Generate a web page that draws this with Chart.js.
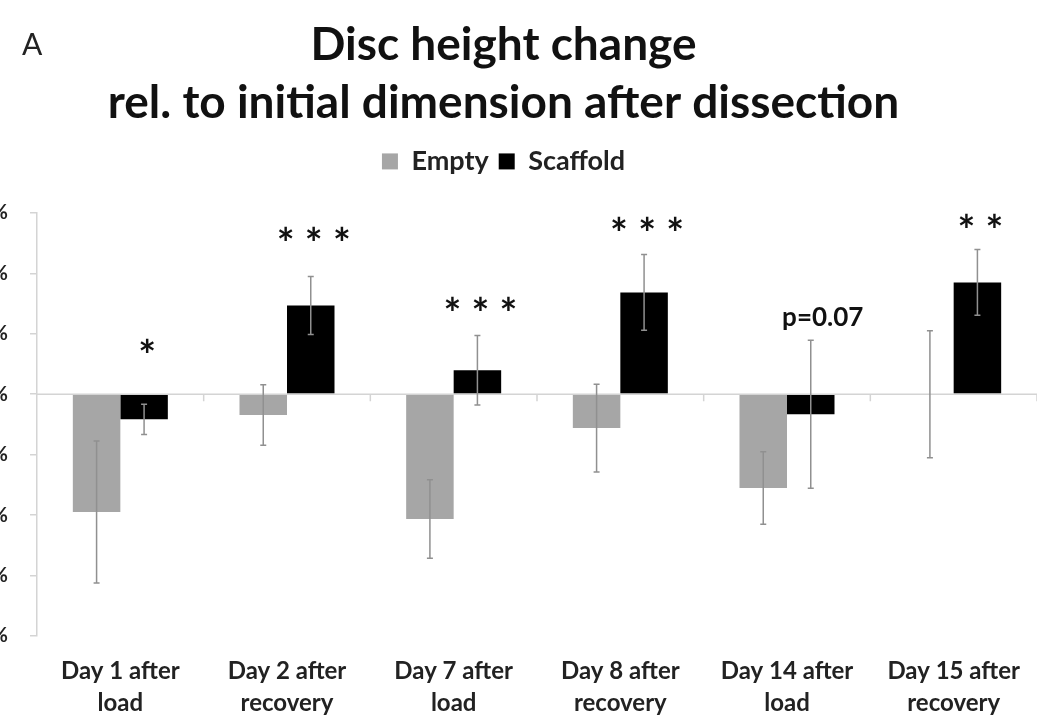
<!DOCTYPE html>
<html lang="en">
<head>
<meta charset="utf-8">
<script src="https://cdn.jsdelivr.net/npm/chart.js@4.4.0/dist/chart.umd.min.js"></script>
<style>
  html, body { margin: 0; padding: 0; background: #fff; overflow: hidden; }
  #wrap { position: absolute; left: -30px; top: 0; width: 1067px; height: 721px; }
</style>
</head>
<body>
<div id="wrap"><canvas id="myChart"></canvas></div>
<script>
// data (values in %)
const categories = [
  ['Day 1 after', 'load'],
  ['Day 2 after', 'recovery'],
  ['Day 7 after', 'load'],
  ['Day 8 after', 'recovery'],
  ['Day 14 after', 'load'],
  ['Day 15 after', 'recovery']
];
const emptyValues = [-3.9, -0.69, -4.13, -1.12, -3.1, 0.0];
const emptyErrors = [2.35, 1.0, 1.3, 1.45, 1.2, 2.1];
const scaffoldValues = [-0.83, 2.94, 0.79, 3.37, -0.66, 3.7];
const scaffoldErrors = [0.5, 0.96, 1.15, 1.25, 2.45, 1.09];
const sigLabels = ['*', '***', '***', '***', 'p=0.07', '**'];
const sigLevels = [1.52, 5.21, 2.9, 5.54, 2.54, 5.64]; // height of the marks, in %
const yTicks = { min: -8, max: 6, step: 2 };

const FONT = 'Lato';

// give the legend some room below it
const legendGap = {
  id: 'legendGap',
  beforeInit(chart) {
    const fit = chart.legend.fit;
    chart.legend.fit = function () {
      fit.call(this);
      this.height += 28;
    };
  }
};

const extras = {
  id: 'extras',
  afterDatasetsDraw(chart) {
    const ctx = chart.ctx;
    const area = chart.chartArea;
    const y = chart.scales.y;
    const zeroY = y.getPixelForValue(0);

    ctx.save();
    // category axis at zero
    ctx.strokeStyle = '#d4d4d4';
    ctx.lineWidth = 1.5;
    ctx.beginPath();
    ctx.moveTo(area.left, zeroY);
    ctx.lineTo(area.right, zeroY);
    const n = categories.length;
    for (let i = 1; i <= n; i++) {
      const x = area.left + i * (area.right - area.left) / n;
      ctx.moveTo(x, zeroY);
      ctx.lineTo(x, zeroY + 7);
    }
    ctx.stroke();

    // error bars
    const sets = [[emptyValues, emptyErrors], [scaffoldValues, scaffoldErrors]];
    ctx.strokeStyle = '#909090';
    ctx.lineWidth = 1.5;
    sets.forEach((s, d) => {
      const meta = chart.getDatasetMeta(d);
      meta.data.forEach((bar, i) => {
        const v = s[0][i], e = s[1][i];
        const y1 = y.getPixelForValue(v + e);
        const y2 = y.getPixelForValue(v - e);
        ctx.beginPath();
        ctx.moveTo(bar.x, y1);
        ctx.lineTo(bar.x, y2);
        ctx.moveTo(bar.x - 3, y1);
        ctx.lineTo(bar.x + 3, y1);
        ctx.moveTo(bar.x - 3, y2);
        ctx.lineTo(bar.x + 3, y2);
        ctx.stroke();
      });
    });

    // significance marks
    const meta = chart.getDatasetMeta(1);
    ctx.fillStyle = '#111';
    ctx.textAlign = 'center';
    ctx.textBaseline = 'middle';
    meta.data.forEach((bar, i) => {
      const py = y.getPixelForValue(sigLevels[i]);
      const label = sigLabels[i];
      if (label.startsWith('p')) {
        ctx.font = 'bold 26px ' + FONT;
        ctx.fillText(label, bar.x + 12, py);
      } else {
        // the asterisk sits high in the glyph box
        ctx.font = 'bold 42px ' + FONT;
        ctx.fillText(label.split('').join(' '), bar.x + 3, py + 9);
      }
    });

    // panel letter
    ctx.font = '30px ' + FONT;
    ctx.textAlign = 'left';
    ctx.fillStyle = '#222';
    ctx.fillText('A', 52, 45);
    ctx.restore();
  }
};

new Chart(document.getElementById('myChart'), {
  type: 'bar',
  data: {
    labels: categories,
    datasets: [
      { label: 'Empty', data: emptyValues, backgroundColor: '#a6a6a6' },
      { label: 'Scaffold', data: scaffoldValues, backgroundColor: '#000000' }
    ]
  },
  options: {
    responsive: true,
    maintainAspectRatio: false,
    animation: false,
    categoryPercentage: 0.57,
    barPercentage: 1.0,
    layout: { padding: { left: 0, right: 0, top: 0, bottom: 0 } },
    plugins: {
      title: {
        display: true,
        text: ['Disc height change', 'rel. to initial dimension after dissection'],
        color: '#111',
        font: { family: FONT, size: 46, weight: 'bold', lineHeight: 1.26 },
        padding: { top: 16, bottom: 6 }
      },
      legend: {
        display: true,
        labels: {
          color: '#222',
          boxWidth: 16,
          boxHeight: 16,
          padding: 10,
          font: { family: FONT, size: 27, weight: 'bold' }
        }
      },
      tooltip: { enabled: false }
    },
    scales: {
      x: {
        afterFit(scale) { scale.height = 85; },
        grid: { display: false },
        border: { display: false },
        ticks: {
          color: '#222',
          padding: 12,
          maxRotation: 0,
          font: { family: FONT, size: 24, weight: 'bold', lineHeight: 1.3 }
        }
      },
      y: {
        min: yTicks.min,
        max: yTicks.max,
        afterFit(scale) { scale.width = 67; },
        ticks: {
          stepSize: yTicks.step,
          color: '#222',
          padding: 22,
          font: { family: FONT, size: 20, weight: 'bold' },
          callback: v => v + '%'
        },
        grid: { drawOnChartArea: false, drawTicks: true, tickLength: 7, color: '#d4d4d4', lineWidth: 1.5 },
        border: { color: '#d4d4d4', width: 1.5 }
      }
    }
  },
  plugins: [legendGap, extras]
});
</script>
</body>
</html>
